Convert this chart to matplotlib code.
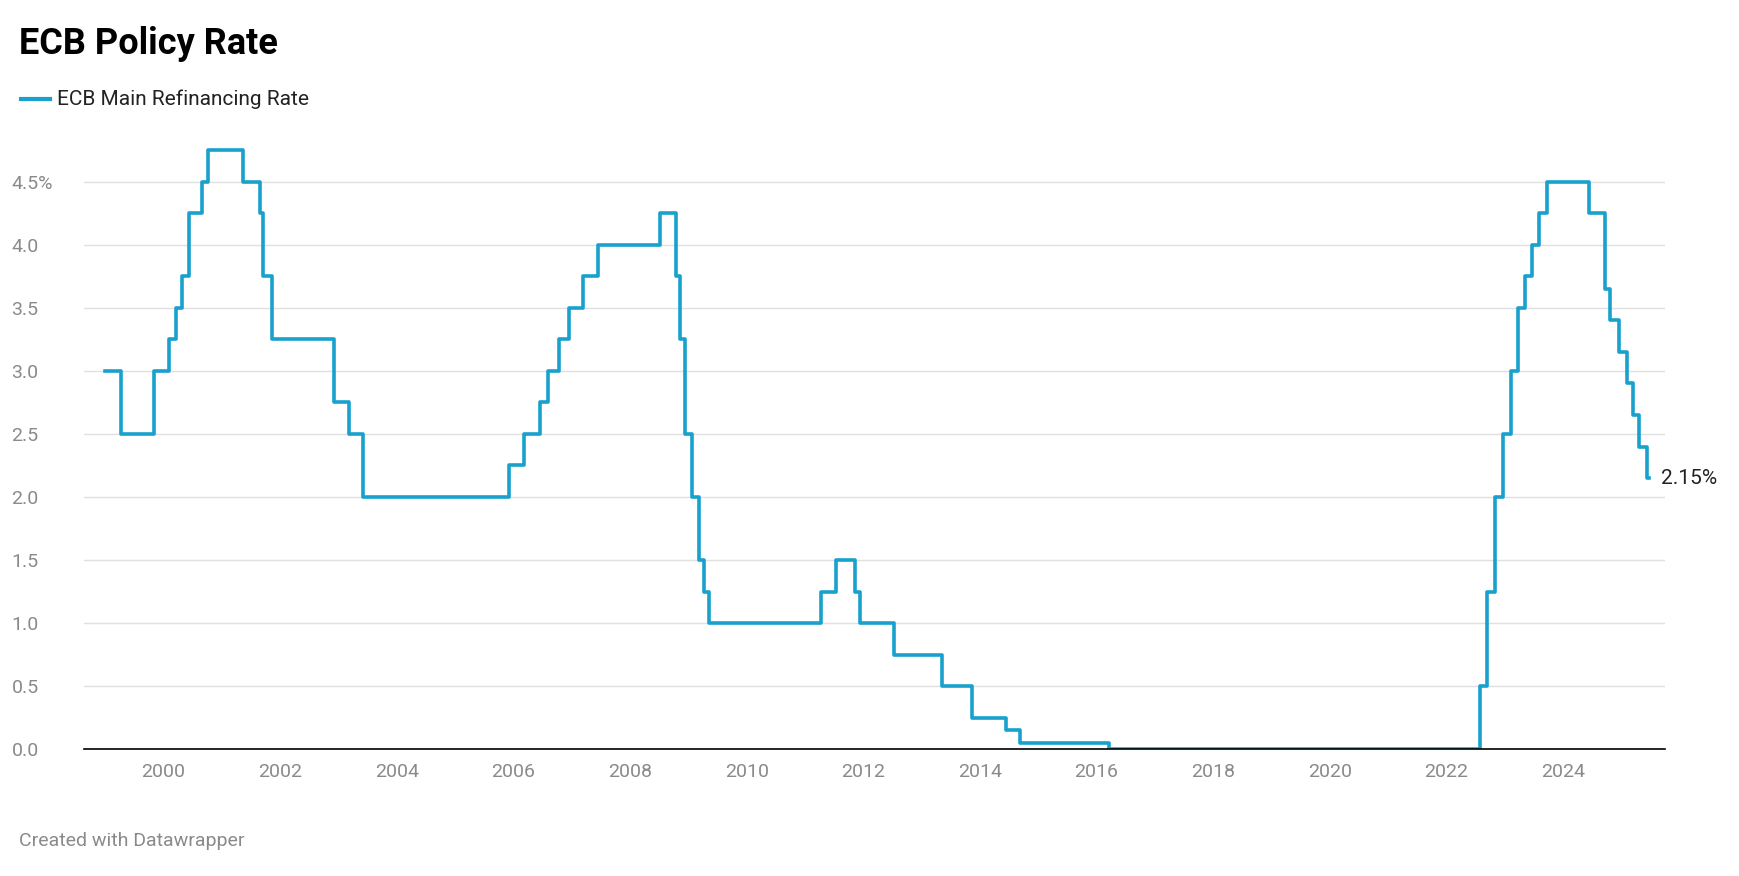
import matplotlib
matplotlib.use("Agg")
import matplotlib.pyplot as plt
import datetime as dt

plt.rcParams['font.family'] = ['Roboto', 'DejaVu Sans']

dates = ["1999-01-01","1999-04-09","1999-11-05","2000-02-04","2000-03-17","2000-04-28","2000-06-09",
"2000-09-01","2000-10-06","2001-05-11","2001-08-31","2001-09-18","2001-11-09","2002-12-06","2003-03-07",
"2003-06-06","2005-12-06","2006-03-08","2006-06-15","2006-08-09","2006-10-11","2006-12-13","2007-03-14",
"2007-06-13","2008-07-09","2008-10-15","2008-11-12","2008-12-10","2009-01-21","2009-03-11","2009-04-08",
"2009-05-13","2011-04-13","2011-07-13","2011-11-09","2011-12-14","2012-07-11","2013-05-08","2013-11-13",
"2014-06-11","2014-09-10","2016-03-16","2022-07-27","2022-09-14","2022-11-02","2022-12-21","2023-02-08",
"2023-03-22","2023-05-10","2023-06-21","2023-08-02","2023-09-20","2024-06-12","2024-09-18","2024-10-23",
"2024-12-18","2025-02-05","2025-03-12","2025-04-23","2025-06-11","2025-06-25"]
rates = [3.00,2.50,3.00,3.25,3.50,3.75,4.25,4.50,4.75,4.50,4.25,3.75,3.25,2.75,2.50,2.00,2.25,2.50,2.75,
3.00,3.25,3.50,3.75,4.00,4.25,3.75,3.25,2.50,2.00,1.50,1.25,1.00,1.25,1.50,1.25,1.00,0.75,0.50,0.25,
0.15,0.05,0.00,0.50,1.25,2.00,2.50,3.00,3.50,3.75,4.00,4.25,4.50,4.25,3.65,3.40,3.15,2.90,2.65,2.40,2.15,2.15]
yticks = [0, 0.5, 1.0, 1.5, 2.0, 2.5, 3.0, 3.5, 4.0, 4.5]
ylabels = ["0.0","0.5","1.0","1.5","2.0","2.5","3.0","3.5","4.0","4.5%"]
xticks = list(range(2000, 2025, 2))

def dec(s):
    d = dt.date.fromisoformat(s)
    start = dt.date(d.year, 1, 1)
    n = (dt.date(d.year + 1, 1, 1) - start).days
    return d.year + (d - start).days / n

x = [dec(s) for s in dates]

fig = plt.figure(figsize=(17.4, 8.76), dpi=100)
ax = fig.add_axes([0.048, 0.1445, 0.909, 0.6915])
ax.step(x, rates, where='post', color='#18a1cd', lw=2.6, zorder=3)
ax.set_xlim(1998.63, 2025.75)
ax.set_ylim(0, 4.8)
ax.set_yticks(yticks)
ax.set_yticklabels(ylabels)
ax.set_xticks(xticks)
ax.grid(axis='y', color='#e0e0e0', lw=1)
ax.set_axisbelow(True)
for s in ['top', 'right', 'left']:
    ax.spines[s].set_visible(False)
ax.spines['bottom'].set_color('#000000')
ax.spines['bottom'].set_linewidth(1.2)
ax.spines['bottom'].set_zorder(4)
ax.tick_params(axis='both', length=0, labelsize=14, labelcolor='#8a8a8a', pad=10)
ax.tick_params(axis='y', pad=12)
for t in ax.get_yticklabels():
    t.set_horizontalalignment('left')
    t.set_x(-0.035)
ax.text(x[-1] + 0.2, rates[-1], "2.15%", fontsize=15, color='#222222', va='center', ha='left')

fig.text(0.011, 0.95, "ECB Policy Rate", fontsize=26, fontweight='bold', va='center')
fig.text(0.033, 0.887, "ECB Main Refinancing Rate", fontsize=15, va='center', color='#222222')
fig.add_artist(plt.Line2D([0.012, 0.029], [0.887, 0.887], color='#18a1cd', lw=3))
fig.text(0.011, 0.04, "Created with Datawrapper", fontsize=14, color='#8a8a8a', va='center')
fig.savefig("out.png", dpi=100)
